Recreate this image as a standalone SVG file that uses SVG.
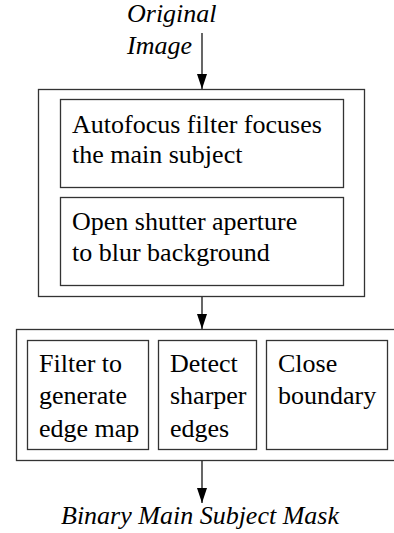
<svg xmlns="http://www.w3.org/2000/svg" width="394" height="533" viewBox="0 0 394 533">
<defs>
<marker id="ah" markerWidth="15" markerHeight="10" refX="15" refY="5" orient="auto" markerUnits="userSpaceOnUse" viewBox="0 0 15 10">
<path d="M0,0 L15,5 L0,10 Z" fill="#000"/>
</marker>
</defs>
<style>
.box{fill:#fff;stroke:#333;stroke-width:1.3}
text{font-family:'Liberation Serif','Times New Roman','DejaVu Serif',serif;font-size:26px;fill:#000}
.i{font-style:italic}
.c{stroke:#000;stroke-width:1.2;fill:none}
</style>
<rect width="394" height="533" fill="#fff"/>
<g id="input">
<text class="i" x="127" y="22">Original</text>
<text class="i" x="127" y="54">Image</text>
</g>
<g id="stage1">
<rect class="box" x="38.5" y="89.5" width="326" height="207"/>
</g>
<g id="autofocus">
<rect class="box" x="60.5" y="99.5" width="283" height="88"/>
<text x="72" y="133">Autofocus filter focuses</text>
<text x="72" y="163">the main subject</text>
</g>
<g id="shutter">
<rect class="box" x="60.5" y="197.5" width="283" height="88"/>
<text x="72" y="230">Open shutter aperture</text>
<text x="72" y="261">to blur background</text>
</g>
<g id="stage2">
<rect class="box" x="16.5" y="329.5" width="400" height="131"/>
</g>
<g id="edgemap">
<rect class="box" x="27.5" y="340.5" width="121" height="109"/>
<text x="39" y="372">Filter to</text>
<text x="39" y="404">generate</text>
<text x="39" y="437">edge map</text>
</g>
<g id="detect">
<rect class="box" x="158.5" y="340.5" width="98" height="109"/>
<text x="170" y="372">Detect</text>
<text x="170" y="404">sharper</text>
<text x="170" y="437">edges</text>
</g>
<g id="close">
<rect class="box" x="266.5" y="340.5" width="121" height="109"/>
<text x="278" y="372">Close</text>
<text x="278" y="404">boundary</text>
</g>
<g id="output">
<text class="i" x="61" y="524">Binary Main Subject Mask</text>
</g>
<g id="connectors">
<line class="c" x1="202" y1="33" x2="202" y2="89" marker-end="url(#ah)"/>
<line class="c" x1="202" y1="297" x2="202" y2="329" marker-end="url(#ah)"/>
<line class="c" x1="202" y1="461" x2="202" y2="503" marker-end="url(#ah)"/>
</g>
</svg>
